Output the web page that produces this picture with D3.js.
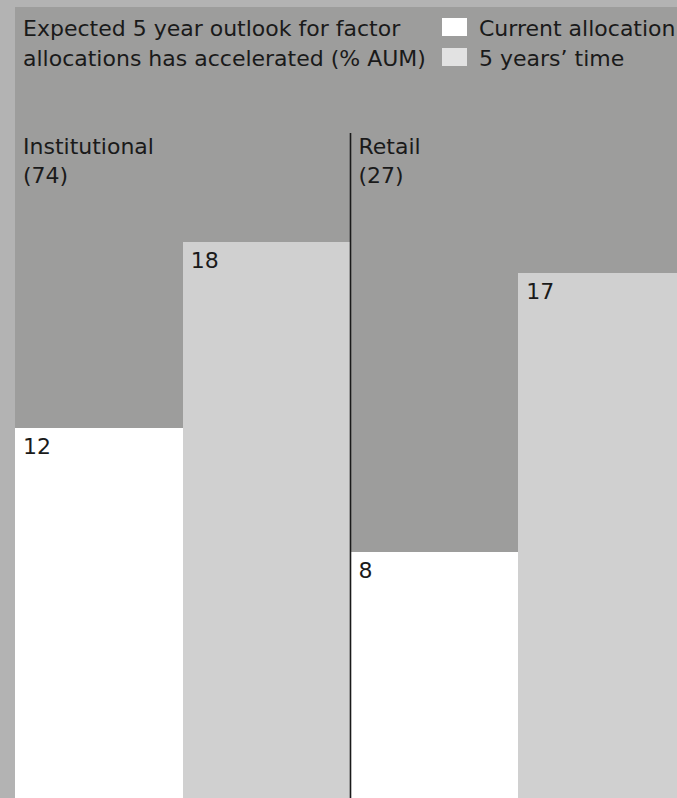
<!DOCTYPE html>
<html>
<head>
<meta charset="utf-8">
<script src="https://cdn.jsdelivr.net/npm/d3@7"></script>
<style>
  html, body { margin: 0; padding: 0; background: #b3b3b3; }
  svg { display: block; }
  text { font-family: "DejaVu Sans", sans-serif; font-size: 22px; fill: #1a1a1a; }
</style>
</head>
<body>
<script>
// ---- data ----
const groups = ["Institutional", "Retail"];
const groupCounts = ["(74)", "(27)"];
const series = ["Current allocation", "5 years\u2019 time"];
const currentValues = [12, 8];
const futureValues = [18, 17];
const titleLines = ["Expected 5 year outlook for factor", "allocations has accelerated (% AUM)"];
const seriesColors = ["#ffffff", "#d0d0d0"];
const legendColors = ["#ffffff", "#e2e2e2"];

const W = 677, H = 798;
const svg = d3.select("body").append("svg").attr("width", W).attr("height", H);

// outer background + panel
svg.append("rect").attr("x", 0).attr("y", 0).attr("width", W).attr("height", H).attr("fill", "#b3b3b3");
svg.append("rect").attr("x", 15).attr("y", 7).attr("width", W - 15).attr("height", H - 7).attr("fill", "#9d9d9c");

// scales
const x0 = d3.scaleBand().domain(groups).range([15, 686]).padding(0);
const x1 = d3.scaleBand().domain(series).range([0, x0.bandwidth()]).padding(0);
const y = d3.scaleLinear().domain([0, 20]).range([800, 180]);

const rows = [];
groups.forEach((g, i) => {
  rows.push({ group: g, key: series[0], value: currentValues[i] });
  rows.push({ group: g, key: series[1], value: futureValues[i] });
});

// bars
svg.append("g").selectAll("rect").data(rows).join("rect")
  .attr("x", d => x0(d.group) + x1(d.key))
  .attr("y", d => y(d.value))
  .attr("width", x1.bandwidth())
  .attr("height", d => y(0) - y(d.value))
  .attr("fill", (d) => seriesColors[series.indexOf(d.key)])
  .attr("shape-rendering", "crispEdges");

// value labels
svg.append("g").selectAll("text").data(rows).join("text")
  .attr("x", d => x0(d.group) + x1(d.key) + 8)
  .attr("y", d => y(d.value) + 26)
  .text(d => d.value);

// divider between groups
svg.append("line")
  .attr("x1", x0("Retail")).attr("x2", x0("Retail"))
  .attr("y1", 133).attr("y2", H)
  .attr("stroke", "#1a1a1a").attr("stroke-width", 1.6);

// group labels
const gl = svg.append("g").selectAll("g").data(groups).join("g");
gl.append("text")
  .attr("x", d => x0(d) + (d === groups[0] ? 8 : 8))
  .attr("y", 154)
  .text(d => d);
gl.append("text")
  .attr("x", d => x0(d) + 8)
  .attr("y", 183)
  .text((d, i) => groupCounts[i]);

// title
svg.append("g").selectAll("text").data(titleLines).join("text")
  .attr("x", 23)
  .attr("y", (d, i) => 36 + i * 30)
  .text(d => d);

// legend
const lg = svg.append("g").selectAll("g").data(series).join("g")
  .attr("transform", (d, i) => `translate(442, ${18 + i * 30})`);
lg.append("rect").attr("width", 25).attr("height", 18)
  .attr("fill", (d, i) => legendColors[i]);
lg.append("text").attr("x", 37).attr("y", 18).text(d => d);
</script>
</body>
</html>
